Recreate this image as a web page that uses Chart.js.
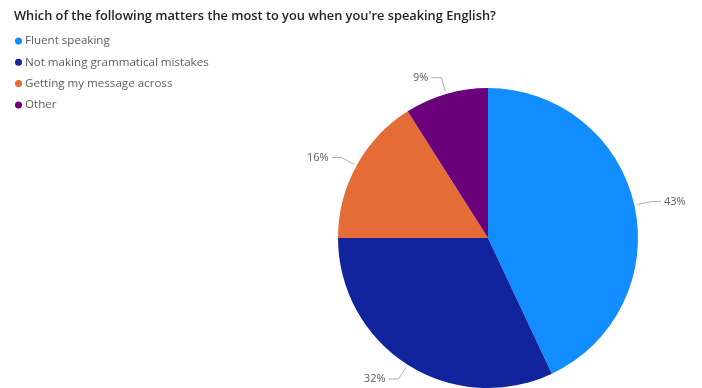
<!DOCTYPE html>
<html>
<head>
<meta charset="utf-8">
<script src="https://cdn.jsdelivr.net/npm/chart.js@4.4.1/dist/chart.umd.min.js"></script>
<style>
  html, body { margin: 0; padding: 0; background: #fff; }
  #wrap { width: 702px; height: 388px; position: relative; }
</style>
</head>
<body>
<div id="wrap"><canvas id="c" width="702" height="388"></canvas></div>
<script>
const title = "Which of the following matters the most to you when you're speaking English?";
const categories = ["Fluent speaking", "Not making grammatical mistakes", "Getting my message across", "Other"];
const shares = [43, 32, 16, 9];
const colors = ["#118DFF", "#12239E", "#E66C37", "#6B007B"];

// Title, legend and outside percentage labels with leader lines
const annotate = {
  id: 'annotate',
  afterDraw(chart) {
    const ctx = chart.ctx;
    ctx.save();
    // title
    ctx.fillStyle = '#252423';
    ctx.font = '600 12.8px "Open Sans"';
    ctx.textBaseline = 'middle';
    ctx.textAlign = 'left';
    ctx.fillText(title, 14, 16);
    // legend
    ctx.font = '11.6px "Open Sans"';
    categories.forEach((name, i) => {
      const y = 41 + i * 21.3;
      ctx.fillStyle = colors[i];
      ctx.beginPath();
      ctx.arc(18.5, y, 3.5, 0, Math.PI * 2);
      ctx.fill();
      ctx.fillStyle = '#605E5C';
      ctx.fillText(name, 25, y);
    });
    // data labels
    const meta = chart.getDatasetMeta(0);
    const total = shares.reduce((a, b) => a + b, 0);
    ctx.font = '11px "Open Sans"';
    meta.data.forEach((arc, i) => {
      const p = arc.getProps(['x', 'y', 'startAngle', 'endAngle', 'outerRadius'], true);
      const mid = (p.startAngle + p.endAngle) / 2;
      const cos = Math.cos(mid), sin = Math.sin(mid);
      const r0 = p.outerRadius + 3;
      const r1 = p.outerRadius + 17;
      const x0 = p.x + cos * r0, y0 = p.y + sin * r0;
      const x1 = p.x + cos * r1, y1 = p.y + sin * r1;
      const dir = cos >= 0 ? 1 : -1;
      const x2 = x1 + dir * 10;
      ctx.strokeStyle = '#B3B0AD';
      ctx.lineWidth = 1;
      ctx.beginPath();
      ctx.moveTo(x0, y0);
      ctx.lineTo(x1, y1);
      ctx.lineTo(x2, y1);
      ctx.stroke();
      ctx.fillStyle = '#605E5C';
      ctx.textAlign = dir > 0 ? 'left' : 'right';
      ctx.fillText(Math.round(shares[i] / total * 100) + '%', x2 + dir * 3, y1);
    });
    ctx.restore();
  }
};

new Chart(document.getElementById('c'), {
  type: 'pie',
  data: {
    labels: categories,
    datasets: [{
      data: shares,
      backgroundColor: colors,
      borderWidth: 0
    }]
  },
  options: {
    responsive: false,
    animation: false,
    layout: { padding: { left: 338, right: 64, top: 88, bottom: 0 } },
    plugins: {
      legend: { display: false },
      title: { display: false },
      tooltip: { enabled: false }
    }
  },
  plugins: [annotate]
});
</script>
</body>
</html>
